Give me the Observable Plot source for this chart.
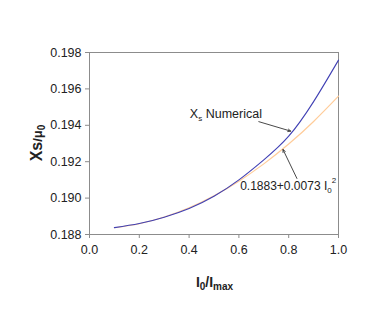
<!DOCTYPE html>
<html>
<head>
<meta charset="utf-8">
<script src="https://cdn.jsdelivr.net/npm/d3@7"></script>
<script src="https://cdn.jsdelivr.net/npm/@observablehq/plot@0.6"></script>
<style>
  html, body { margin: 0; padding: 0; background: #fff; }
  #chart svg { display: block; }
</style>
</head>
<body>
<div id="chart"></div>
<script>
// ---- data ----
const xValues = [0.1, 0.2, 0.3, 0.4, 0.5, 0.6, 0.7, 0.8, 0.9, 1.0];
const numerical = [0.18838, 0.18860, 0.18895, 0.18943, 0.19010, 0.19100, 0.19210, 0.19340, 0.19530, 0.19758];
const fitted    = [0.18837, 0.18859, 0.18896, 0.18947, 0.19013, 0.19093, 0.19188, 0.19297, 0.19421, 0.19560];
const xTicks = [0.0, 0.2, 0.4, 0.6, 0.8, 1.0];
const yTicks = [0.188, 0.190, 0.192, 0.194, 0.196, 0.198];

// annotation anchors (data units)
const arrowFrom = [{x: 0.68, y: 0.19420}, {x: 0.833, y: 0.19108}];
const arrowTo   = [{x: 0.808, y: 0.19368}, {x: 0.777, y: 0.19267}];
const labelPos  = [{x: 0.405, y: 0.19462}, {x: 0.607, y: 0.19064}];

const numData = xValues.map((x, i) => ({x, y: numerical[i]}));
const fitData = xValues.map((x, i) => ({x, y: fitted[i]}));
const arrows = arrowFrom.map((f, i) => ({x1: f.x, y1: f.y, x2: arrowTo[i].x, y2: arrowTo[i].y}));

const plot = Plot.plot({
  width: 374,
  height: 332,
  marginLeft: 89,
  marginRight: 36,
  marginTop: 52,
  marginBottom: 98,
  style: {fontFamily: "'Liberation Sans', Arial, sans-serif", fontSize: "12px", color: "#222", background: "#fff"},
  x: {domain: [0, 1]},
  y: {domain: [0.188, 0.198]},
  marks: [
    Plot.frame({stroke: "#8c8c8c", strokeWidth: 1}),
    Plot.axisX({ticks: xTicks, tickFormat: d3.format(".1f"), tickSize: 4, tickPadding: 7, stroke: "#8c8c8c", label: null, fontSize: 12.5, fill: "#222"}),
    Plot.axisY({ticks: yTicks, tickFormat: d3.format(".3f"), tickSize: 4, tickPadding: 4, stroke: "#8c8c8c", label: null, fontSize: 12.5, fill: "#222"}),
    Plot.line(fitData, {x: "x", y: "y", stroke: "#ffcc99", strokeWidth: 1.2, curve: "natural"}),
    Plot.line(numData, {x: "x", y: "y", stroke: "#4040b4", strokeWidth: 1.1, curve: "natural"}),
    Plot.arrow(arrows, {x1: "x1", y1: "y1", x2: "x2", y2: "y2", stroke: "#333", strokeWidth: 0.9, headLength: 5, headAngle: 50})
  ]
});

document.getElementById("chart").appendChild(plot);

// rich text labels (subscripts) added through the plot's scales
const sx = plot.scale("x"), sy = plot.scale("y");
const svg = d3.select(plot);
const font = "'Liberation Sans', Arial, sans-serif";
const g = svg.append("g").attr("font-family", font).attr("fill", "#222");

// "Xs Numerical"
const t1 = g.append("text")
  .attr("x", sx.apply(labelPos[0].x)).attr("y", sy.apply(labelPos[0].y))
  .attr("text-anchor", "start")
  .attr("dy", "0.35em").attr("font-size", 12.5);
t1.append("tspan").text("X");
t1.append("tspan").attr("font-size", 8).attr("dy", 3).text("s");
t1.append("tspan").attr("dy", -3).text(" Numerical");

// "0.1883+0.0073 I0^2"
const t2 = g.append("text")
  .attr("x", sx.apply(labelPos[1].x)).attr("y", sy.apply(labelPos[1].y))
  .attr("text-anchor", "start")
  .attr("dy", "0.35em").attr("font-size", 12);
t2.append("tspan").text("0.1883+0.0073 I");
t2.append("tspan").attr("font-size", 8).attr("dy", 3).text("0");
t2.append("tspan").attr("font-size", 8).attr("dy", -10).text("2");

// x axis title I0/Imax
const xt = g.append("text")
  .attr("x", (sx.range[0] + sx.range[1]) / 2 + 1).attr("y", 287)
  .attr("text-anchor", "middle").attr("font-weight", "bold").attr("font-size", 14);
xt.append("tspan").text("I");
xt.append("tspan").attr("font-size", 10).attr("dy", 3).text("0");
xt.append("tspan").attr("dy", -3).text("/I");
xt.append("tspan").attr("font-size", 10).attr("dy", 3).text("max");

// y axis title Xs/μ0
const yt = g.append("text")
  .attr("transform", `translate(42,${(sy.range[0] + sy.range[1]) / 2}) rotate(-90)`)
  .attr("text-anchor", "middle").attr("font-weight", "bold").attr("font-size", 16);
yt.append("tspan").text("Xs");
yt.append("tspan").attr("font-size", 13).text("/μ");
yt.append("tspan").attr("font-size", 10).attr("dy", 3).text("0");
</script>
</body>
</html>
